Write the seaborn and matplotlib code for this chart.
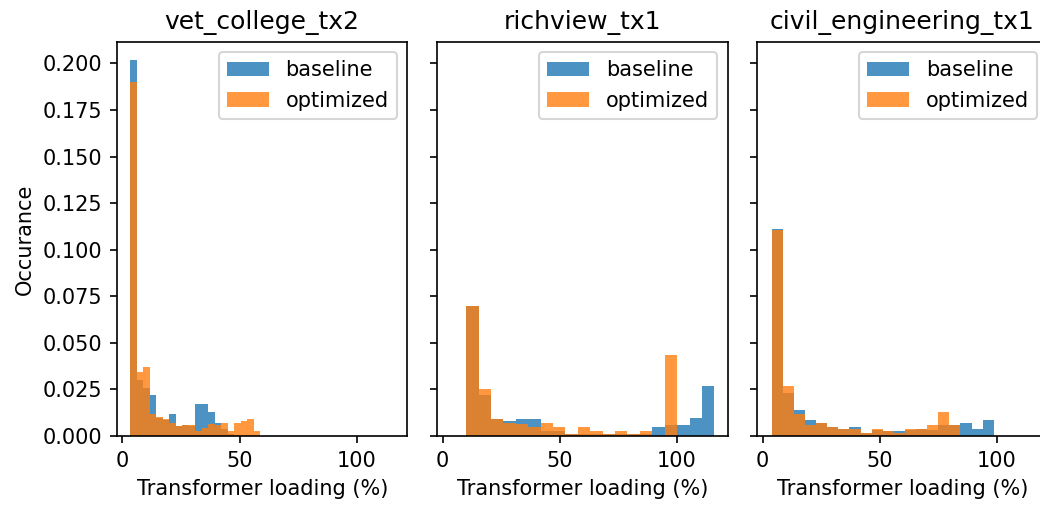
import matplotlib

matplotlib.use("Agg")
import matplotlib.pyplot as plt
import numpy as np
import pandas as pd
import seaborn as sns

# transformer names (one panel each)
transformers = ["vet_college_tx2", "richview_tx1", "civil_engineering_tx1"]

# bin range (%) shared by both series within a panel, 20 bins each
bin_lo = [3.3, 10.06, 3.86]
bin_hi = [58.8, 116.1, 98.7]
n_bins = 20

# normalised occurrence per bin
baseline_vet = [0.2016, 0.030, 0.026, 0.0219, 0.0095, 0.0085, 0.0117, 0.0056, 0.0058, 0.0055,
                0.0174, 0.0174, 0.013, 0.0072, 0.004, 0.001, 0.0, 0.0, 0.0, 0.0]
optimized_vet = [0.190, 0.0345, 0.0369, 0.0117, 0.0103, 0.0092, 0.0072, 0.0056, 0.0058, 0.006,
                 0.0027, 0.0045, 0.0067, 0.0061, 0.0072, 0.0027, 0.007, 0.0083, 0.0092, 0.0025]

baseline_rich = [0.070, 0.0218, 0.0093, 0.0082, 0.0093, 0.0093, 0.0025, 0.0025, 0.001, 0.001,
                 0.001, 0.001, 0.001, 0.001, 0.001, 0.0048, 0.006, 0.006, 0.0096, 0.0266]
optimized_rich = [0.070, 0.0254, 0.0093, 0.007, 0.0065, 0.0048, 0.007, 0.0048, 0.001, 0.0048,
                  0.0025, 0.001, 0.0025, 0.001, 0.0025, 0.0, 0.0437, 0.0, 0.0, 0.0]

baseline_civil = [0.111, 0.023, 0.0141, 0.0084, 0.0071, 0.0048, 0.0036, 0.0048, 0.0016, 0.003,
                  0.0025, 0.0025, 0.003, 0.0038, 0.003, 0.0057, 0.0057, 0.0071, 0.0036, 0.0084]
optimized_civil = [0.1105, 0.0266, 0.012, 0.0057, 0.0071, 0.0048, 0.0036, 0.0036, 0.0016, 0.0038,
                   0.0025, 0.0016, 0.0038, 0.0038, 0.006, 0.0129, 0.0057, 0.0, 0.0, 0.0]

baseline = [baseline_vet, baseline_rich, baseline_civil]
optimized = [optimized_vet, optimized_rich, optimized_civil]

dpi = 150
fig, axes = plt.subplots(1, 3, figsize=(1040 / dpi, 506 / dpi), dpi=dpi, sharex=True, sharey=True)

for i, ax in enumerate(axes):
    edges = np.linspace(bin_lo[i], bin_hi[i], n_bins + 1)
    centers = (edges[:-1] + edges[1:]) / 2

    for name, heights, color in [("baseline", baseline[i], "#1f77b4"),
                                 ("optimized", optimized[i], "#ff7f0e")]:
        df = pd.DataFrame({"loading": centers, "occ": heights})
        sns.histplot(data=df, x="loading", weights="occ", bins=list(edges), stat="count",
                     color=color, alpha=0.8, linewidth=0, label=name, ax=ax)

    ax.set_title(transformers[i])
    ax.set_xlabel("Transformer loading (%)")
    ax.set_ylabel("Occurance" if i == 0 else "")
    ax.legend(loc="upper right")

axes[0].set_xticks([0, 50, 100])

# the right edge of the last panel is cut off in the original
fig.subplots_adjust(left=0.1125, right=1.0074, bottom=0.1383, top=0.9176, wspace=0.102)
fig.savefig("out.png", dpi=dpi)
